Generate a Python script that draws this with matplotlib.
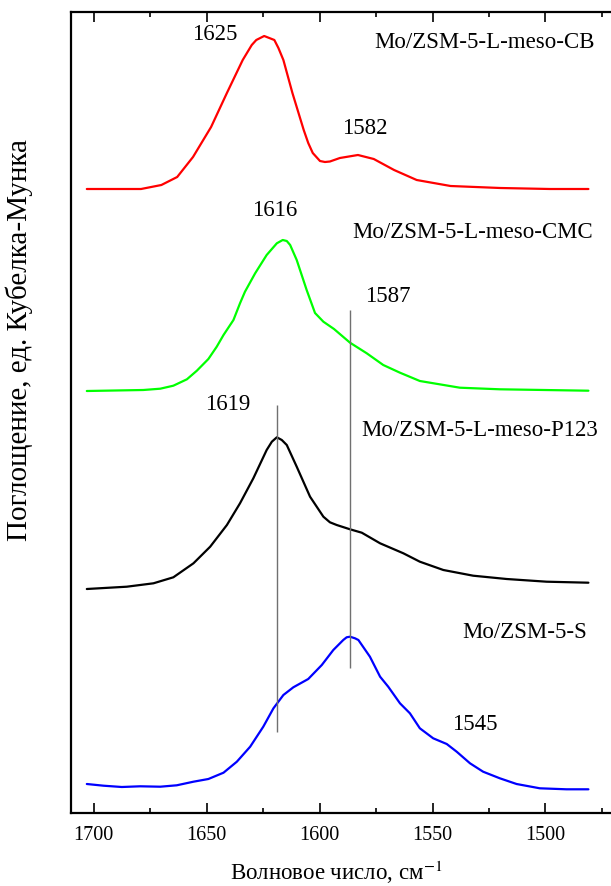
import numpy as np
import matplotlib
matplotlib.use("Agg")
import matplotlib.pyplot as plt
from matplotlib.ticker import MultipleLocator

plt.rcParams['font.family'] = ['Liberation Serif', 'DejaVu Serif']
plt.rcParams['mathtext.fontset'] = 'stix'

# ---- data (wavenumber, cm-1; Kubelka-Munk absorbance, offset traces, arb. units) ----
cb_x = [1703, 1679, 1670, 1663, 1656, 1648, 1641, 1634, 1630, 1628, 1624.5, 1620, 1618.2,
        1616, 1612, 1607, 1605, 1603, 1599.8, 1597.6, 1595.4, 1591, 1583, 1576, 1567, 1557,
        1542, 1520, 1498, 1481]
cb_y = [624, 624, 628, 636, 656, 686, 720, 753, 768, 773, 777, 773, 765,
        753, 720, 683, 670, 660, 652, 651, 651.5, 655, 658, 654, 643, 633,
        627, 625, 624, 624]

cmc_x = [1703, 1678, 1670.5, 1664.7, 1658.7, 1654.3, 1649.2, 1645.5, 1642.5, 1638.1, 1635.2,
         1633, 1628.5, 1623.4, 1618.9, 1616.3, 1614.5, 1613, 1610.1, 1605.7, 1602, 1598.3,
         1593.6, 1586.5, 1579.1, 1571.8, 1564.4, 1555.6, 1537.9, 1520.2, 1481]
cmc_y = [422, 423, 424.3, 427.3, 433.7, 442.3, 454, 466.3, 478, 493, 509.7,
         521.3, 539.7, 558, 569.7, 573, 572, 568, 553, 523, 500, 491.3,
         484, 470.3, 459.7, 448, 440.3, 432, 425.3, 423.7, 422.3]

p123_x = [1703, 1685.3, 1673.5, 1664.7, 1655.8, 1648.4, 1641, 1635.2, 1629.3, 1623.4, 1621.1,
          1618.9, 1616.7, 1614.5, 1610.1, 1604.2, 1598.3, 1595.4, 1592.4, 1586.5, 1581.3,
          1573.2, 1562.9, 1555.6, 1545.2, 1532, 1517.2, 1499.5, 1481]
p123_y = [224, 226.3, 229.7, 235.7, 249.7, 266.3, 288, 309.7, 334.7, 363, 371.3,
          375.7, 373, 368, 346.3, 316.3, 296.3, 290.7, 288, 283.7, 280.3,
          269.7, 259.7, 251.3, 243, 237.3, 234, 231.3, 230.3]

s_x = [1703, 1695.6, 1687.5, 1679.4, 1670.5, 1663.2, 1655.8, 1649.2, 1642.5, 1636.6, 1630.7,
       1624.9, 1620.4, 1616, 1611.6, 1605, 1599, 1593.9, 1589.5, 1588, 1586.5, 1584.3,
       1582.8, 1577.7, 1573.2, 1569.6, 1564.4, 1560, 1555.6, 1549.7, 1543.7, 1539.3,
       1533.4, 1527.6, 1520.2, 1512.8, 1502.5, 1490.7, 1481]
s_y = [29, 27.3, 26, 26.7, 26.3, 27.7, 31.3, 34, 40.3, 51.3, 66.3,
       86.3, 104.7, 118, 125.7, 134, 148, 163, 173, 175.7, 176.3, 174.7,
       173, 156.3, 136.3, 126.3, 109.7, 99.7, 84.7, 74.7, 69, 61.3,
       49.7, 41.3, 34.7, 29, 24.7, 23.7, 23.7]

series_names = ['Mo/ZSM-5-L-meso-CB', 'Mo/ZSM-5-L-meso-CMC', 'Mo/ZSM-5-L-meso-P123', 'Mo/ZSM-5-S']
series_colors = ['#ff0000', '#00ff00', '#000000', '#0000ff']

# peak markers (vertical guide lines): position, y from, y to
guide_pos = [1619, 1586.5]
guide_lo = [81, 145]
guide_hi = [408, 503]

# peak labels: text, x, y
peak_text = ['1625', '1582', '1616', '1587', '1619', '1545']
peak_x = [1646.2, 1579.9, 1619.7, 1569.7, 1640.5, 1531.2]
peak_y = [778, 685, 602, 516, 408, 88]

# series name labels (right-aligned): x, y
name_x = [1478.2, 1479.1, 1476.9, 1481.7]
name_y = [770, 581, 383, 181]

xticks_major = [1700, 1650, 1600, 1550, 1500]

fig = plt.figure(figsize=(6.11, 8.86), dpi=100)
ax = fig.add_axes([71/611, (886-813)/886, (611-71)/611, (813-11.5)/886])

for xs, ys, c in zip([cb_x, cmc_x, p123_x, s_x], [cb_y, cmc_y, p123_y, s_y], series_colors):
    ax.plot(xs, ys, color=c, lw=1.6, solid_joinstyle='round', solid_capstyle='round')

ax.vlines(guide_pos, guide_lo, guide_hi, colors='#707070', lw=1.0)

for t, x, y in zip(peak_text, peak_x, peak_y):
    ax.text(x, y, t, ha='center', va='center', fontsize=16.5)
for t, x, y in zip(series_names, name_x, name_y):
    ax.text(x, y, t, ha='right', va='center', fontsize=16.5)

ax.set_xlim(1710, 1471)
ax.set_ylim(0, 801.5)
ax.set_xticks(xticks_major)
ax.xaxis.set_minor_locator(MultipleLocator(25))
ax.tick_params(axis='x', which='major', direction='in', length=7.5, width=1.2,
               top=True, labelsize=14.5, pad=9)
ax.tick_params(axis='x', which='minor', direction='in', length=3.8, width=1.2, top=True)
ax.set_yticks([201, 403, 601])
ax.set_yticklabels([])
ax.tick_params(axis='y', which='major', direction='inout', length=3, width=1.2, color='white')

for s in ['left', 'bottom', 'top']:
    ax.spines[s].set_linewidth(1.6)
ax.spines['right'].set_visible(False)

ax.set_xlabel('Волновое число, см$^{-1}$', fontsize=16.5)
ax.xaxis.set_label_coords((336 - 71) / 540, -(859 - 813) / 801.5)
ax.set_ylabel('Поглощение, ед. Кубелка-Мунка', fontsize=21)
ax.yaxis.set_label_coords((33 - 71) / 540, (813 - 340) / 801.5)

fig.savefig('out.png', dpi=100)
